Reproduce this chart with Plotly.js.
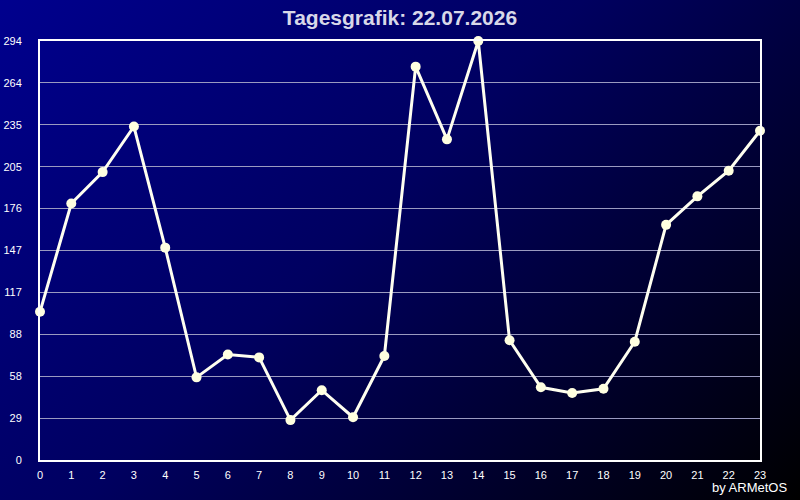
<!DOCTYPE html>
<html><head><meta charset="utf-8">
<script src="https://cdn.plot.ly/plotly-3.0.1.min.js"></script>
<style>
html,body{margin:0;padding:0;}
#bg{width:800px;height:500px;background:linear-gradient(135deg,#00008e 0%,#000060 45%,#000000 100%);}
#chart{width:800px;height:500px;}
</style></head>
<body><div id="bg"><div id="chart"></div></div>
<script>
const hours = [0,1,2,3,4,5,6,7,8,9,10,11,12,13,14,15,16,17,18,19,20,21,22,23];
const values = [104,180,202,234,149,58,74,72,28,49,30,73,276,225,294,84,51,47,50,83,165,185,203,231];
const yTickVals = [0,29.4,58.8,88.2,117.6,147,176.4,205.8,235.2,264.6,294];
const yTickText = ["0","29","58","88","117","147","176","205","235","264","294"];

const trace = {
  x: hours, y: values, type: 'scatter', mode: 'lines+markers',
  line: {color: '#fffff0', width: 3},
  marker: {color: '#ffffe0', size: 10},
  cliponaxis: false, hoverinfo: 'none'
};
const layout = {
  width: 800, height: 500,
  paper_bgcolor: 'rgba(0,0,0,0)', plot_bgcolor: 'rgba(0,0,0,0)',
  margin: {l: 40, r: 40, t: 41, b: 40},
  showlegend: false,
  font: {family: 'Liberation Sans, Arial, sans-serif', color: '#ffffff', size: 11},
  title: {text: '<b>Tagesgrafik: 22.07.2026</b>', x: 0.5, xanchor: 'center', y: 0.965, yanchor: 'middle',
          font: {size: 21, color: '#d8d8e8', family: 'Liberation Sans, Arial, sans-serif'}},
  xaxis: {range: [0, 23], tickvals: hours, ticktext: hours.map(String), showgrid: false,
          zeroline: false, showline: true, linecolor: '#ffffff', linewidth: 2, mirror: true,
          ticks: '', ticklabelstandoff: 4, tickfont: {size: 11, color: '#ffffff'}, fixedrange: true},
  yaxis: {range: [0, 294], tickvals: yTickVals, ticktext: yTickText, showgrid: true,
          gridcolor: '#9a9ac0', gridwidth: 1, zeroline: false, showline: true, linecolor: '#ffffff',
          linewidth: 2, mirror: true, ticks: '', ticklabelstandoff: 14, tickfont: {size: 11, color: '#ffffff'},
          fixedrange: true},
  annotations: [{text: 'by ARMetOS', xref: 'paper', yref: 'paper', x: 1.04, y: -0.065,
                 xanchor: 'right', yanchor: 'middle', showarrow: false,
                 font: {size: 13, color: '#ffffff', family: 'Liberation Sans, Arial, sans-serif'}}]
};
Plotly.newPlot('chart', [trace], layout, {displayModeBar: false, staticPlot: true});
</script></body></html>
